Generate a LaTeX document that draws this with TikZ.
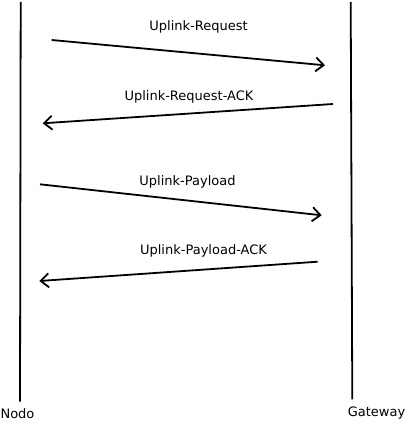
\documentclass[tikz,border=0pt]{standalone}
\usepackage{fontspec}
\setmainfont{DejaVu Sans}
\usetikzlibrary{arrows.meta}
\begin{document}
\begin{tikzpicture}[x=1pt,y=-1pt,
  line width=1.8pt,
  lbl/.style={inner sep=0pt,anchor=base,font=\fontsize{13}{15}\selectfont},
  msg/.style={-{Straight Barb[length=8pt,width=14pt,line width=1.8pt]}}]
\useasboundingbox (0,0) rectangle (407,423);
% lifelines
\coordinate (n1) at (20.7,2);
\coordinate (n2) at (20,401.7);
\coordinate (g1) at (350.7,2);
\coordinate (g2) at (352.3,399.3);
\draw (n1) -- (n2);
\draw (g1) -- (g2);
\node[lbl] (nodo) at (17.5,418) {Nodo};
\node[lbl] (gw) at (376.5,416) {Gateway};
% messages
\coordinate (a1) at (51.7,40);   \coordinate (b1) at (325,65.3);
\coordinate (a2) at (333,104);   \coordinate (b2) at (42.7,123.3);
\coordinate (a3) at (40,184.3);  \coordinate (b3) at (321.7,215.3);
\coordinate (a4) at (317.7,261.7); \coordinate (b4) at (39.3,281);
\draw[msg] (a1) -- (b1);
\draw[msg] (a2) -- (b2);
\draw[msg] (a3) -- (b3);
\draw[msg] (a4) -- (b4);
\node[lbl] (t1) at (198.5,30) {Uplink-Request};
\node[lbl] (t2) at (189,100) {Uplink-Request-ACK};
\node[lbl] (t3) at (187.5,185) {Uplink-Payload};
\node[lbl] (t4) at (203.5,254) {Uplink-Payload-ACK};
\end{tikzpicture}
\end{document}
